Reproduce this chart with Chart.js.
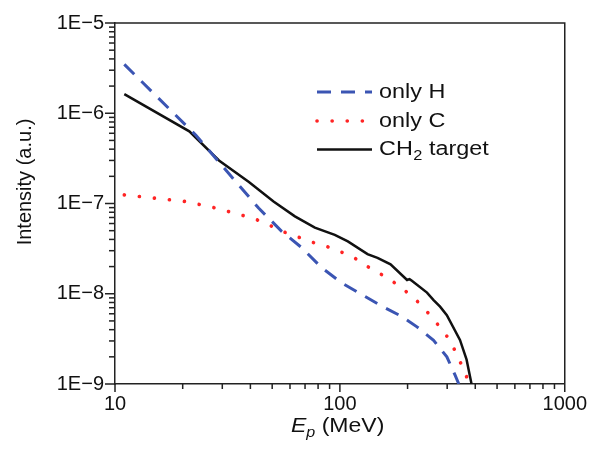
<!DOCTYPE html>
<html>
<head>
<meta charset="utf-8">
<script src="https://cdn.jsdelivr.net/npm/chart.js@4/dist/chart.umd.min.js"></script>
<style>
  html, body { margin: 0; padding: 0; background: #fff; }
  #wrap { width: 595px; height: 457px; }
</style>
</head>
<body>
<div id="wrap"><canvas id="chart"></canvas></div>
<script>
// proton energy (MeV) / intensity (a.u.)
const onlyH_E = [11, 22.9, 43.5, 55.1, 67.6, 82.8, 101.4, 124.2, 152, 186, 221, 261, 299, 325, 338];
const onlyH_I = [3.48e-6, 5.7e-7, 8.9e-8, 4.92e-8, 3.25e-8, 1.95e-8, 1.33e-8, 9.9e-9, 7.4e-9, 5.7e-9, 4.27e-9, 3.05e-9, 2.0e-9, 1.26e-9, 1.0e-9];

const onlyC_E = [11, 15.3, 20.7, 28.1, 36.8, 42.8, 49.8, 57, 76, 87.7, 101.4, 116, 130.6, 168, 213, 257, 309, 354, 377];
const onlyC_I = [1.245e-7, 1.14e-7, 1.05e-7, 8.9e-8, 7.4e-8, 6.6e-8, 5.6e-8, 4.8e-8, 3.7e-8, 3.33e-8, 2.9e-8, 2.5e-8, 2.05e-8, 1.43e-8, 9.1e-9, 5.5e-9, 3.05e-9, 1.48e-9, 1.0e-9];

const ch2_E = [11, 21.4, 29, 39.4, 50.7, 63.1, 77.4, 94.9, 108.5, 132.7, 147, 168, 199, 204, 209, 244, 261, 279, 299, 342, 366, 385];
const ch2_I = [1.63e-6, 6.3e-7, 3.0e-7, 1.73e-7, 1.05e-7, 7.2e-8, 5.4e-8, 4.5e-8, 3.8e-8, 2.75e-8, 2.5e-8, 2.12e-8, 1.42e-8, 1.45e-8, 1.39e-8, 1.03e-8, 8.5e-9, 7.2e-9, 5.8e-9, 3.08e-9, 1.86e-9, 1.0e-9];

const xMin = 10, xMax = 1000;
const yMin = 1e-9, yMax = 1e-5;

const FONT = '"Liberation Sans", Arial, sans-serif';
const AXIS = '#222222';

function pts(xs, ys) {
  return xs.map((x, i) => ({ x: x, y: ys[i] }));
}
function isDecade(v) {
  const l = Math.log10(v);
  return Math.abs(l - Math.round(l)) < 1e-6;
}
// 1,2,...,9 x 10^n between lo and hi
function logTicks(lo, hi) {
  const out = [];
  for (let e = Math.round(Math.log10(lo)); e <= Math.round(Math.log10(hi)); e++) {
    for (let m = 1; m <= 9; m++) {
      const v = m * Math.pow(10, e);
      if (v >= lo * 0.999 && v <= hi * 1.001) out.push({ value: v, major: m === 1 });
    }
  }
  return out;
}

const series = [
  { label: 'only H', data: pts(onlyH_E, onlyH_I), color: '#3b55b3', width: 3, dash: [14, 10], cap: 'butt' },
  { label: 'only C', data: pts(onlyC_E, onlyC_I), color: '#ff2424', width: 3.6, dash: [0.1, 15], cap: 'round' },
  { label: 'CH2 target', data: pts(ch2_E, ch2_I), color: '#111111', width: 2.5, dash: [], cap: 'butt' }
];

// wide-ish text like the original figure
function wideText(ctx, str, x, y, font, sx) {
  ctx.save();
  ctx.font = font;
  ctx.translate(x, y);
  ctx.scale(sx, 1);
  ctx.fillText(str, 0, 0);
  const w = ctx.measureText(str).width * sx;
  ctx.restore();
  return w;
}

// tick marks, top/right frame, legend and axis titles
const decor = {
  id: 'decor',
  afterDraw(chart) {
    const c = chart.ctx;
    const a = chart.chartArea;
    const xs = chart.scales.x, ys = chart.scales.y;
    c.save();
    c.setLineDash([]);
    c.strokeStyle = AXIS;
    c.lineWidth = 1.5;
    c.beginPath();
    c.moveTo(a.left, a.top);
    c.lineTo(a.right, a.top);
    c.lineTo(a.right, a.bottom);
    c.stroke();

    // tick marks as filled rects
    c.fillStyle = AXIS;
    logTicks(xMin, xMax).forEach(t => {
      const px = xs.getPixelForValue(t.value);
      c.fillRect(px - 0.75, a.bottom, 1.5, t.major ? 8 : 5);
    });
    logTicks(yMin, yMax).forEach(t => {
      const py = ys.getPixelForValue(t.value);
      const len = t.major ? 10 : 6;
      c.fillRect(a.left - len, py - 0.75, len, 1.5);
    });

    // legend
    const lx0 = 317, lx1 = 372, tx = 379;
    const rows = [92, 121, 149.5];
    const LF = '20px ' + FONT, SX = 1.17;
    c.fillStyle = '#111';
    c.textBaseline = 'middle';
    series.forEach((s, i) => {
      c.save();
      c.strokeStyle = s.color;
      c.lineWidth = s.width;
      c.lineCap = s.cap;
      c.setLineDash(s.dash);
      c.beginPath();
      c.moveTo(lx0, rows[i]);
      c.lineTo(lx1, rows[i]);
      c.stroke();
      c.restore();
      if (i < 2) {
        wideText(c, s.label, tx, rows[i], LF, SX);
      } else {
        let x = tx;
        x += wideText(c, 'CH', x, rows[i], LF, SX);
        x += wideText(c, '2', x + 0.5, rows[i] + 7, '14px ' + FONT, SX) + 0.5;
        wideText(c, ' target', x, rows[i], LF, SX);
      }
    });

    // y title
    c.save();
    c.translate(31, 182);
    c.rotate(-Math.PI / 2);
    c.font = '20px ' + FONT;
    c.textAlign = 'center';
    c.textBaseline = 'alphabetic';
    c.fillText('Intensity (a.u.)', 0, 0);
    c.restore();

    // x title: E_p (MeV)
    c.textBaseline = 'alphabetic';
    c.textAlign = 'left';
    const base = 432, TX = 1.15;
    let x = 291;
    x += wideText(c, 'E', x, base, 'italic 20px ' + FONT, TX);
    x += wideText(c, 'p', x, base + 5, 'italic 14px ' + FONT, TX);
    wideText(c, ' (MeV)', x, base, '20px ' + FONT, TX);
    c.restore();
  }
};

const ctx = document.getElementById('chart').getContext('2d');
new Chart(ctx, {
  type: 'line',
  data: {
    datasets: series.map(s => ({
      label: s.label,
      data: s.data,
      borderColor: s.color,
      borderWidth: s.width,
      borderDash: s.dash,
      borderCapStyle: s.cap,
      pointRadius: 0,
      fill: false,
      tension: 0
    }))
  },
  options: {
    responsive: true,
    maintainAspectRatio: false,
    animation: false,
    layout: { padding: { left: 0, top: 20, right: 26, bottom: 0 } },
    plugins: { legend: { display: false }, tooltip: { enabled: false } },
    scales: {
      x: {
        type: 'logarithmic',
        min: xMin,
        max: xMax,
        grid: { display: false, drawTicks: false },
        border: { display: true, color: AXIS, width: 1.5 },
        afterBuildTicks: s => { s.ticks = logTicks(xMin, xMax); },
        ticks: {
          autoSkip: false,
          maxRotation: 0,
          padding: 8,
          color: '#111',
          font: { family: FONT, size: 20 },
          callback: v => isDecade(v) ? String(Math.round(v)) : ''
        },
        afterFit: s => { s.height = 73; }
      },
      y: {
        type: 'logarithmic',
        min: yMin,
        max: yMax,
        grid: { display: false, drawTicks: false },
        border: { display: true, color: AXIS, width: 1.5 },
        afterBuildTicks: s => { s.ticks = logTicks(yMin, yMax); },
        ticks: {
          autoSkip: false,
          padding: 11,
          color: '#111',
          font: { family: FONT, size: 20 },
          callback: v => isDecade(v) ? '1E\u2212' + Math.abs(Math.round(Math.log10(v))) : ''
        },
        afterFit: s => { s.width = 115; }
      }
    }
  },
  plugins: [decor]
});
</script>
</body>
</html>
